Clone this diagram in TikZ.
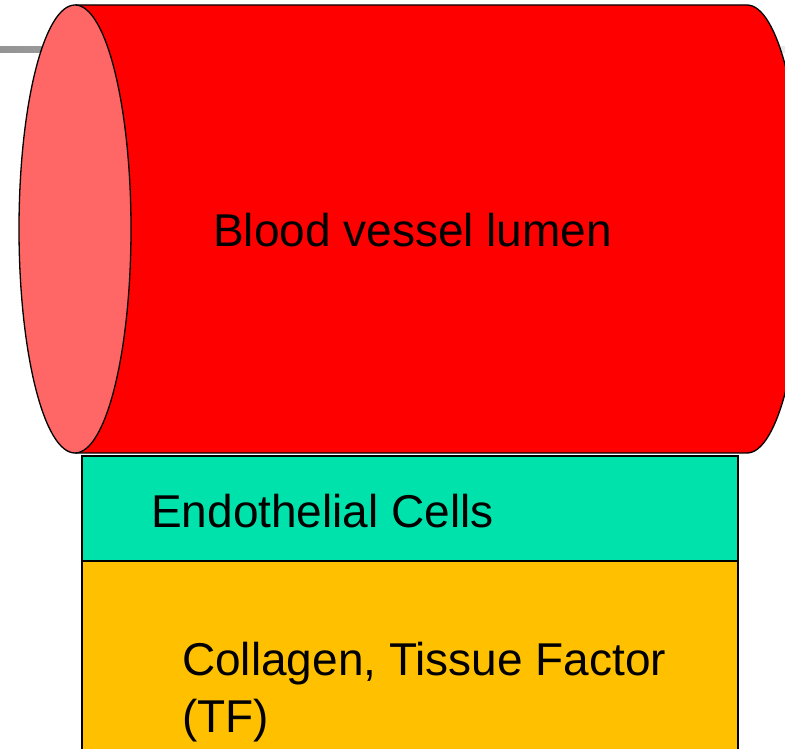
\documentclass[tikz,border=0pt]{standalone}
\usepackage{fontspec}
\setmainfont{Liberation Sans}
\usetikzlibrary{calc}

\definecolor{lumen}{HTML}{FF0000}
\definecolor{cara}{HTML}{FF6666}
\definecolor{endo}{HTML}{00E2AB}
\definecolor{colageno}{HTML}{FFC000}

\tikzset{
  capa/.style={draw=black, line width=1.6pt},
  rotulo/.style={font=\fontsize{46}{57}\selectfont, inner sep=0pt, anchor=base west, align=left}
}

\begin{document}
\begin{tikzpicture}[x=1pt, y=1pt]
  \clip (0,0) rectangle (785,748);

  % Barra gris del fondo
  \shade[left color=black!42, right color=black!8] (0,695) rectangle (785,701);

  % Vaso sanguineo (cilindro)
  \coordinate (T1) at (75,743);
  \coordinate (T2) at (747,743);
  \coordinate (B1) at (75,295);
  \coordinate (O) at (75,519);
  \fill[lumen] (T1) -- (T2) arc[start angle=90, end angle=-90, x radius=56, y radius=224] -- (B1) -- cycle;
  \draw[line width=1.3pt] (T1) -- (T2) arc[start angle=90, end angle=-90, x radius=56, y radius=224] -- (B1);
  \draw[line width=1.3pt, fill=cara] (O) ellipse[x radius=56, y radius=224];
  \node[rotulo] (lumen) at (213,501) {Blood vessel lumen};

  % Capas de tejido (abajo)
  \coordinate (E1) at (82,292);
  \coordinate (E2) at (738,187);
  \coordinate (C2) at (738,-20);
  \fill[endo] (E1) rectangle (E2);
  \fill[colageno] (82,187) rectangle (C2);
  \draw[capa] (82,-20) -- (E1) -- (738,292) -- (C2);
  \draw[capa] (82,187) -- (E2);
  \node[rotulo] (endotelio) at (151,220) {Endothelial Cells};
  \node[rotulo] (colageno) at (182,16) {Collagen, Tissue Factor\\(TF)};
\end{tikzpicture}
\end{document}
